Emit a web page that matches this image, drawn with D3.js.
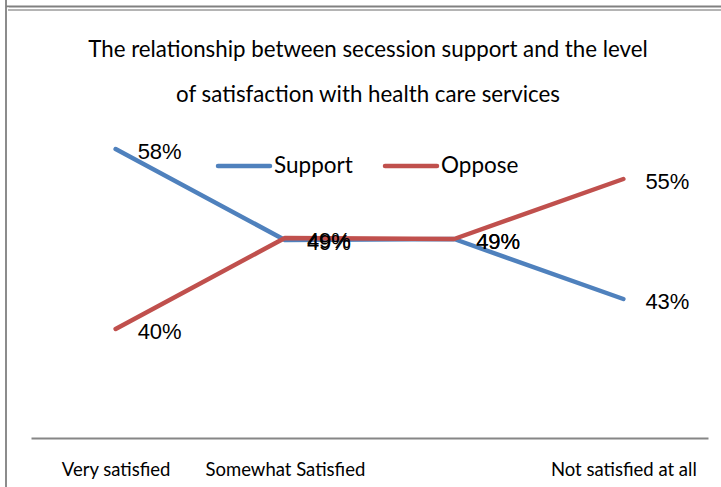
<!DOCTYPE html>
<html>
<head>
<meta charset="utf-8">
<script src="https://cdn.jsdelivr.net/npm/d3@7"></script>
<style>
  body { margin: 0; background: #fff; }
  .title, .legend-label, .cat-label { font-family: Lato, "Open Sans", sans-serif; fill: #000; }
  .value-label { font-family: "Liberation Sans", Arial, sans-serif; font-size: 22px; fill: #000; }
</style>
</head>
<body>
<div id="wrapper"></div>
<script>
// data
const categories = ["Very satisfied", "Somewhat Satisfied", "", "Not satisfied at all"]
const supportValues = [0.58, 0.489, 0.49, 0.43]
const opposeValues = [0.40, 0.491, 0.49, 0.55]
const seriesNames = ["Support", "Oppose"]
const titleLines = [
  "The relationship between secession support and the level",
  "of satisfaction with health care services"
]

const series = [
  { name: seriesNames[0], values: supportValues, color: "#4f81bd" },
  { name: seriesNames[1], values: opposeValues, color: "#c0504d" },
]

const width = 721
const height = 487
const plot = { left: 31, right: 708, top: 129, axisY: 438 }

const svg = d3.select("#wrapper")
  .append("svg")
    .attr("width", width)
    .attr("height", height)

// outer frame
svg.append("line")
  .attr("x1", 6).attr("x2", 6).attr("y1", 0).attr("y2", height)
  .attr("stroke", "#8c8c8c").attr("stroke-width", 2)
svg.append("line")
  .attr("x1", 6).attr("x2", width).attr("y1", 6.5).attr("y2", 6.5)
  .attr("stroke", "#808080").attr("stroke-width", 2)
svg.append("line")
  .attr("x1", 8).attr("x2", width).attr("y1", 10).attr("y2", 10)
  .attr("stroke", "#b4b4b4").attr("stroke-width", 2)
svg.append("rect")
  .attr("x", 7).attr("y", 7.5).attr("width", 2).attr("height", 1.5)
  .attr("fill", "#fff")

// title
svg.selectAll(".title")
  .data(titleLines)
  .join("text")
    .attr("class", "title")
    .attr("x", 368)
    .attr("y", (d, i) => 57 + i * 45)
    .attr("text-anchor", "middle")
    .style("font-size", "22.3px")
    .text(d => d)

// scales
const xScale = d3.scalePoint()
  .domain(d3.range(categories.length))
  .range([plot.left, plot.right])
  .padding(0.5)

const yScale = d3.scaleLinear()
  .domain([0.291, 0.60])
  .range([plot.axisY, plot.top])

// category axis
const xAxis = d3.axisBottom(xScale)
  .tickSize(0)
  .tickPadding(0)
  .tickFormat(i => categories[i])

const axisG = svg.append("g")
  .attr("transform", `translate(0, ${plot.axisY})`)
  .call(xAxis)
axisG.select(".domain")
  .attr("stroke", "#868686")
  .attr("stroke-width", 2)
axisG.selectAll("text")
  .attr("class", "cat-label")
  .attr("y", 38)
  .attr("dy", 0)
  .style("font-size", "18.5px")
  .style("font-family", "Lato, 'Open Sans', sans-serif")
  .attr("fill", "#000")

// lines
const lineGenerator = d3.line()
  .x((d, i) => xScale(i))
  .y(d => yScale(d))

svg.selectAll(".series-line")
  .data(series)
  .join("path")
    .attr("class", "series-line")
    .attr("d", d => lineGenerator(d.values))
    .attr("fill", "none")
    .attr("stroke", d => d.color)
    .attr("stroke-width", 4.5)
    .attr("stroke-linecap", "round")
    .attr("stroke-linejoin", "round")

// legend
const legendX = [218, 385]
series.forEach((s, i) => {
  svg.append("line")
    .attr("x1", legendX[i]).attr("x2", legendX[i] + 52)
    .attr("y1", 166).attr("y2", 166)
    .attr("stroke", s.color)
    .attr("stroke-width", 4.5)
    .attr("stroke-linecap", "round")
  svg.append("text")
    .attr("class", "legend-label")
    .attr("x", legendX[i] + 56)
    .attr("y", 173)
    .style("font-size", "22.5px")
    .text(s.name)
})

// value labels
const fmt = d3.format(".0%")
series.forEach(s => {
  svg.selectAll(null)
    .data(s.values)
    .join("text")
      .attr("class", "value-label")
      .attr("x", (d, i) => xScale(i) + 22)
      .attr("y", d => yScale(d) + 10)
      .text(d => fmt(d))
})
</script>
</body>
</html>
